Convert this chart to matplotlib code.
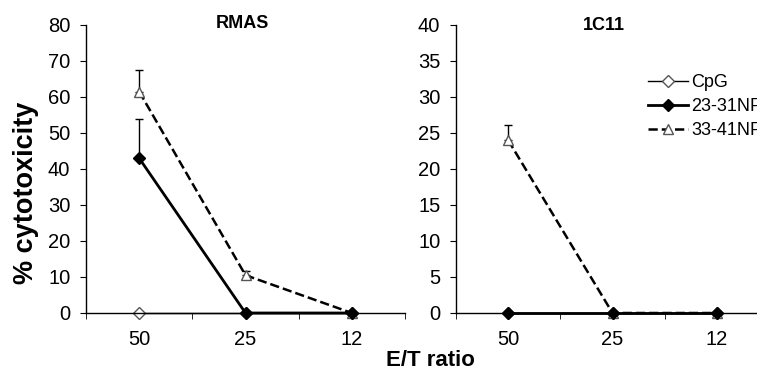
import matplotlib
matplotlib.use('Agg')
import matplotlib.pyplot as plt
from matplotlib.lines import Line2D
import numpy as np

plt.rcParams['font.family'] = ['Liberation Sans', 'DejaVu Sans']

ratios = ['50', '25', '12']
series = ['CpG', '23-31NP', '33-41NP']

# RMAS
rmas_cpg = [0, 0, 0]
rmas_2331 = [43, 0, 0]
rmas_3341 = [61.5, 10.5, 0]
rmas_err_2331 = [11, 0, 0]
rmas_err_3341 = [6, 1.2, 0]

# 1C11
c11_cpg = [0, 0, 0]
c11_2331 = [0, 0, 0]
c11_3341 = [24, 0, 0]
c11_err_2331 = [0, 0, 0]
c11_err_3341 = [2.1, 0, 0]

fig = plt.figure(figsize=(7.57, 3.71), dpi=100)
ax1 = fig.add_axes([86/757, 58/371, 319/757, 288/371])
ax2 = fig.add_axes([456/757, 58/371, 313/757, 288/371])

sty_cpg = dict(color='black', ls='-', lw=1, marker='D', ms=6, mfc='white', mec='#555555')
sty_a = dict(color='black', ls='-', lw=2, marker='D', ms=6, mfc='black', mec='black')
sty_b = dict(color='black', ls='--', lw=1.8, marker='^', ms=7, mfc='white', mec='#555555')

def draw(ax, cpg, a, b, ea, eb, ymax, step):
    x = np.arange(len(ratios))
    zeros = [0]*len(x)
    ax.errorbar(x, b, yerr=[zeros, eb], capsize=3, elinewidth=1, ecolor='black',
                clip_on=False, zorder=3, **sty_b)
    ax.errorbar(x, a, yerr=[zeros, ea], capsize=3, elinewidth=1, ecolor='black',
                clip_on=False, zorder=4, **sty_a)
    ax.plot(x, cpg, clip_on=False, zorder=2, **sty_cpg)
    ax.set_xlim(-0.5, len(x) - 0.5)
    ax.set_ylim(0, ymax)
    ax.set_yticks(np.arange(0, ymax + 1, step))
    ax.set_xticks(x)
    ax.set_xticklabels(ratios)
    ax.set_xticks(np.arange(-0.5, len(x)), minor=True)
    ax.tick_params(axis='x', which='major', length=0, pad=12, labelsize=14.5)
    ax.tick_params(axis='x', which='minor', length=4.3, direction='out')
    ax.tick_params(axis='y', length=4.3, direction='out', labelsize=14.5, pad=7)
    for s in ['top', 'right']:
        ax.spines[s].set_visible(False)
    for s in ['left', 'bottom']:
        ax.spines[s].set_linewidth(1)

draw(ax1, rmas_cpg, rmas_2331, rmas_3341, rmas_err_2331, rmas_err_3341, 80, 10)
draw(ax2, c11_cpg, c11_2331, c11_3341, c11_err_2331, c11_err_3341, 40, 5)

handles = [Line2D([], [], **sty_cpg), Line2D([], [], **sty_a), Line2D([], [], **sty_b)]
ax2.legend(handles, series, loc='upper left', bbox_to_anchor=(0.613, 0.83),
           frameon=False, fontsize=13, handlelength=2.25, handletextpad=0.15,
           labelspacing=0.4, borderaxespad=0, borderpad=0)

fig.text(242/757, 1 - 23.5/371, 'RMAS', ha='center', va='center', fontsize=13, fontweight='bold')
fig.text(604/757, 1 - 25/371, '1C11', ha='center', va='center', fontsize=13, fontweight='bold')
fig.text(26/757, 1 - 193/371, '% cytotoxicity', rotation=90, ha='center', va='center',
         fontsize=19.5, fontweight='bold')
fig.text(430/757, 1 - 360/371, 'E/T ratio', ha='center', va='center', fontsize=16, fontweight='bold')

fig.savefig('out.png', dpi=100)
